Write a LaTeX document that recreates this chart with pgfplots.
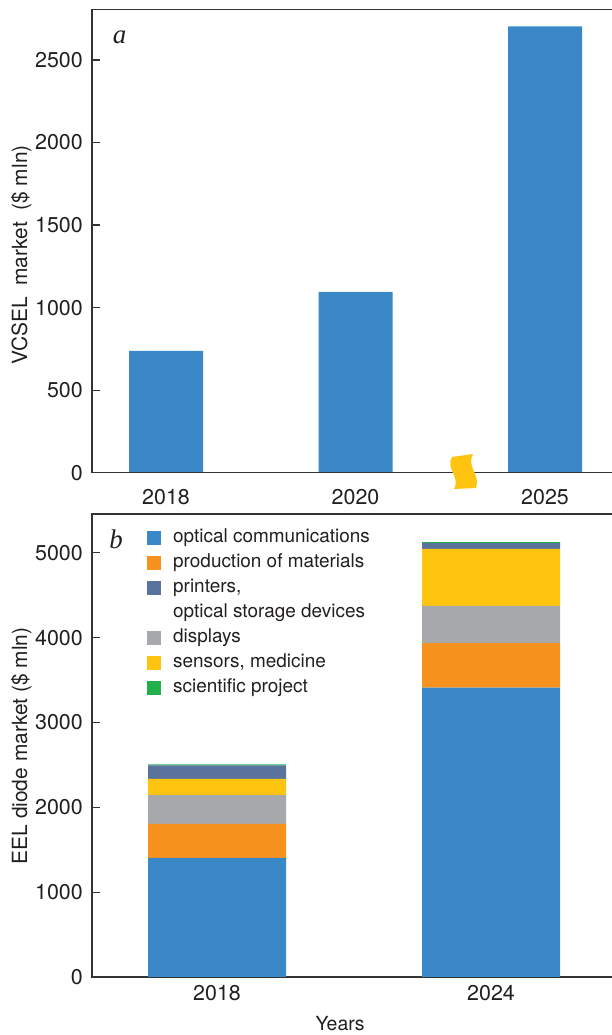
\documentclass[border=0pt]{standalone}
\usepackage{pgfplots}
\pgfplotsset{compat=1.18}
\usepackage{fontspec}
\setmainfont{TeX Gyre Heros}
\newfontfamily\panelfont{Liberation Serif}

\definecolor{ocomm}{HTML}{3A88C8}
\definecolor{prodmat}{HTML}{F7921E}
\definecolor{printers}{HTML}{5A739C}
\definecolor{displays}{HTML}{A7A8AC}
\definecolor{sensors}{HTML}{FFC40F}
\definecolor{science}{HTML}{22B04B}
\definecolor{axisgray}{HTML}{333333}
\definecolor{textdark}{HTML}{231F20}

\tikzset{axisframe/.style={axisgray, line width=1.5bp}}

\pgfplotsset{
  panel/.style={
    scale only axis, width=520bp, height=463bp, anchor=south west,
    clip=false,
    font=\fontsize{19.5}{23}\selectfont,
    text=textdark,
    axis line style={draw=none},
    tick align=inside, major tick length=8bp,
    ytick pos=left,
    ytick style={draw=axisgray, line width=1.2bp},
    xtick style={draw=none},
    tick label style={font=\fontsize{21.5}{24}\selectfont},
    yticklabel style={inner sep=0pt, xshift=-9bp},
    xticklabel style={inner sep=0pt, yshift=-8bp},
    /pgf/number format/assume math mode=true,
    /pgf/number format/1000 sep={},
    ymin=0,
  },
}

\begin{document}
\begin{tikzpicture}[x=1bp, y=1bp]
\path[use as bounding box] (0,0) rectangle (612,1035);

% (a) VCSEL market
\begin{axis}[panel, ybar,
  at={(92bp,562.3bp)},
  xmin=-0.3905, xmax=2.3536, ymax=2805,
  ytick={0,500,...,2500},
  xtick={0,1,2}, xticklabels={2018,2020,2025},
  bar width=74bp,
  ylabel={VCSEL\ \ market\ \ (\$ mln)},
  ylabel style={at={(ticklabel cs:0.47)}, font=\fontsize{21}{24}\selectfont},
]
\addplot[fill=ocomm, draw=none] coordinates {(0,738) (1,1096) (2,2704)};
\draw[axisframe] (rel axis cs:1,1) -- (rel axis cs:0,1) -- (rel axis cs:0,0) -- (rel axis cs:1,0);
\end{axis}

% (b) EEL diode market by application
\begin{axis}[panel, ybar stacked,
  at={(92bp,58bp)},
  xmin=-0.4562, xmax=1.4416, ymax=5457,
  ytick={0,1000,...,5000},
  xtick={0,1}, xticklabels={2018,2024},
  bar width=138bp,
  ylabel={EEL diode market (\$ mln)},
  ylabel style={at={(ticklabel cs:0.499)}, font=\fontsize{21}{24}\selectfont},
  xlabel={Years},
  xlabel style={at={(axis description cs:0.477,0)}, anchor=base, yshift=-53bp, inner sep=0pt},
  legend image code/.code={\fill[#1, draw=none] (0bp,-7bp) rectangle (14bp,7bp);},
  legend cell align=left,
  legend style={at={(axis description cs:0.1058,0.9665)}, anchor=north west,
    draw=none, fill=none, inner sep=0pt, row sep=8bp, column sep=12bp,
    font=\fontsize{19}{23}\selectfont,
    nodes={inner sep=0pt, text height=13bp, text depth=4bp}},
]
\addplot[fill=ocomm, draw=none, forget plot] coordinates {(0,1405) (1,3410)};
\addplot[fill=prodmat, draw=none, forget plot] coordinates {(0,400) (1,525)};
\addplot[fill=displays, draw=none, forget plot] coordinates {(0,340) (1,440)};
\addplot[fill=sensors, draw=none, forget plot] coordinates {(0,190) (1,670)};
\addplot[fill=printers, draw=none, forget plot] coordinates {(0,160) (1,68)};
\addplot[fill=science, draw=none, forget plot] coordinates {(0,12) (1,12)};

\addlegendimage{fill=ocomm}
\addlegendentry{optical communications}
\addlegendimage{fill=prodmat}
\addlegendentry{production of materials}
\addlegendimage{fill=printers}
\addlegendentry{printers,}
\addlegendimage{empty legend}
\addlegendentry{optical storage devices}
\addlegendimage{fill=displays}
\addlegendentry{displays}
\addlegendimage{fill=sensors}
\addlegendentry{sensors, medicine}
\addlegendimage{fill=science}
\addlegendentry{scientific project}

\draw[axisframe] (rel axis cs:1,1) -- (rel axis cs:0,1) -- (rel axis cs:0,0) -- (rel axis cs:1,0);
\end{axis}

% panel letters
\node[font=\panelfont\itshape\fontsize{27}{27}\selectfont, text=textdark] at (119.5,998) {a};
\node[font=\panelfont\itshape\fontsize{27}{27}\selectfont, text=textdark] at (116,496) {b};

% axis break mark between 2020 and 2025
\fill[sensors] (452,578) -- (473,581) .. controls (466,568) and (481,560) .. (476,547)
  -- (454,546) .. controls (461,557) and (445,567) .. (452,578) -- cycle;
\end{tikzpicture}
\end{document}
